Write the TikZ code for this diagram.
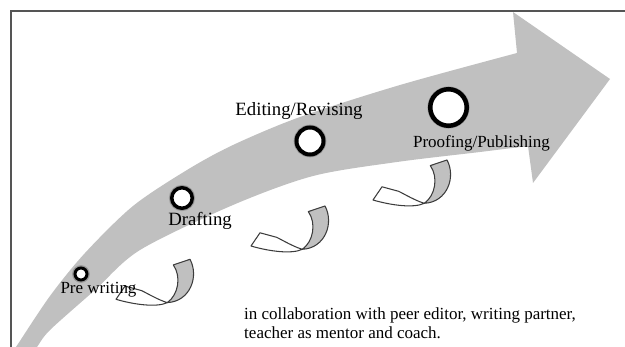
\documentclass[tikz,border=0pt]{standalone}
\usepackage{fontspec}
\setmainfont{Liberation Serif}
\usetikzlibrary{positioning}
\definecolor{bandgray}{RGB}{192,192,192}
\definecolor{edgegray}{RGB}{60,60,60}
\definecolor{framegray}{RGB}{85,85,85}

\begin{document}
\begin{tikzpicture}[
    x=0.03cm, y=-0.03cm,
    stagering/.style={circle, draw=black, fill=white, inner sep=0pt, minimum size=#1,
        preaction={draw=black!40, line width=0.17cm}},
    stagetext/.style={inner sep=0pt, font=\fontsize{14.5}{17}\selectfont},
    bigtext/.style={inner sep=0pt, font=\fontsize{16}{19}\selectfont},
    twist/.pic={
        % grey back of the ribbon
        \filldraw[fill=bandgray, draw=edgegray, line width=0.9pt, line join=round]
            (6,-37.7) .. controls (14.3,-26) and (11,-7.7) .. (0,0)
            .. controls (22.7,-1) and (32,-26) .. (22.7,-43.3) -- cycle;
        % white front with the head
        \filldraw[fill=white, draw=edgegray, line width=0.9pt, line join=round]
            (0,0) .. controls (-9,-2.7) and (-19,-8.7) .. (-25.7,-12)
            -- (-42.3,-16.5) -- (-51.3,-3.3)
            .. controls (-34,1.8) and (-10.7,5.2) .. (0,0) -- cycle;
    }
]

\useasboundingbox (0,0) rectangle (625,347);
\clip (0,0) rectangle (625,347);

% Big arrow
\fill[bandgray] plot[smooth] coordinates {(10,356) (16,347) (50,296) (85,253) (133,206) (187,170) (233,145) (300,117) (400,85) (517,53)}
    -- (513,12) -- (610,79) -- (533,183)
    -- plot[smooth] coordinates {(528,146) (480,152) (397,162) (313,176) (233,205) (140,250) (95,290) (50,330) (37,347) (30,356)}
    -- cycle;

% Frame
\draw[framegray, line width=0.045cm] (11,360) -- (11,11) -- (640,11);

% Feedback loops
\pic at (167.3,302.6) {twist};
\pic at (302.3,249.3) {twist};
\pic at (424.3,203.3) {twist};

% Stages
\node[stagering=0.36cm, line width=0.09cm] (pre) at (81,274) {};
\node[stagering=0.615cm, line width=0.105cm] (draft) at (182,198) {};
\node[stagering=0.81cm, line width=0.12cm] (edit) at (310,141) {};
\node[stagering=1.095cm, line width=0.135cm] (proof) at (448.5,107.5) {};

% Labels
\node[stagetext] (prelabel) at (98.5,290) {Pre writing};
\node[bigtext] (draftlabel) at (200,221) {Drafting};
\node[bigtext] (editlabel) at (299,111) {Editing/Revising};
\node[stagetext] (prooflabel) at (481.5,143) {Proofing/Publishing};

% Note
\node[stagetext, anchor=west, align=left, font=\fontsize{14.5}{16}\selectfont] (note) at (244,323) {in collaboration with peer editor, writing partner,\\teacher as mentor and coach.};

\end{tikzpicture}
\end{document}
